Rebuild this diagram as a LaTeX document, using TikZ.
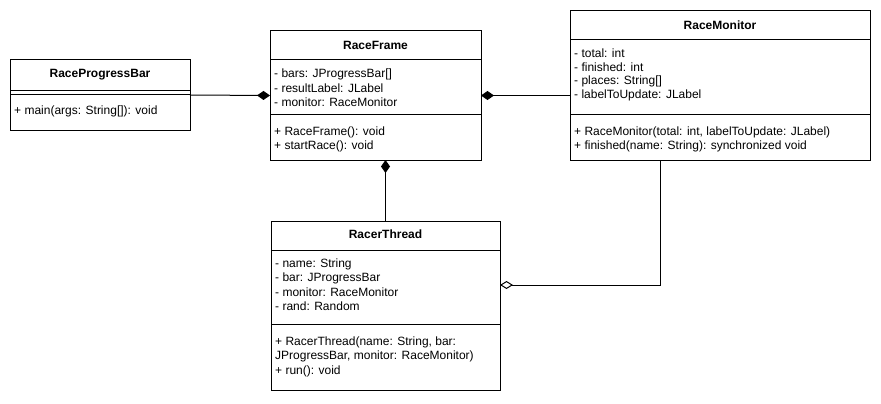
\documentclass[tikz,border=0pt]{standalone}
\usepackage{fontspec}
\setmainfont{Liberation Sans}
\usetikzlibrary{arrows.meta}
\begin{document}
\begin{tikzpicture}[x=1pt,y=-1pt,font=\fontsize{12}{14}\selectfont,
  cls/.style={draw, line width=1pt, fill=white, inner sep=0pt, outer sep=0pt, anchor=north west},
  ttl/.style={font=\fontsize{12}{14}\selectfont\bfseries, inner sep=0pt},
  txt/.style={anchor=west, inner sep=0pt},
  sepline/.style={line width=1pt},
  comp/.style={line width=1pt, {Diamond[length=13pt,width=9pt]}-},
  agg/.style={line width=1pt, {Diamond[open,length=13pt,width=8pt,fill=white]}-}]
\fill[white] (0,0) rectangle (881,404);
\useasboundingbox (0,0) rectangle (881,404);

% RaceProgressBar
\node[cls, minimum width=180pt, minimum height=70pt] (rpb) at (10,60) {};
\node[ttl] (rpbt) at (100,75) {RaceProgressBar};
\draw[sepline] (10,90) -- (190,90);
\draw[sepline] (10,94) -- (190,94);
\node[txt] (rpbm1) at (14,111) {+ main(args: String[]): void};

% RaceFrame
\node[cls, minimum width=211pt, minimum height=129pt] (rf) at (270,31) {};
\node[ttl] (rft) at (375.5,45) {RaceFrame};
\draw[sepline] (270,60) -- (481,60);
\node[txt] (rfa1) at (274,74.5) {- bars: JProgressBar[]};
\node[txt] (rfa2) at (274,88.5) {- resultLabel: JLabel};
\node[txt] (rfa3) at (274,102.5) {- monitor: RaceMonitor};
\draw[sepline] (270,114) -- (481,114);
\node[txt] (rfm1) at (274,132) {+ RaceFrame(): void};
\node[txt] (rfm2) at (274,146) {+ startRace(): void};

% RaceMonitor
\node[cls, minimum width=300pt, minimum height=149pt] (rm) at (570,11) {};
\node[ttl] (rmt) at (720,25) {RaceMonitor};
\draw[sepline] (570,40) -- (870,40);
\node[txt] (rma1) at (574,53) {- total: int};
\node[txt] (rma2) at (574,67) {- finished: int};
\node[txt] (rma3) at (574,81.5) {- places: String[]};
\node[txt] (rma4) at (574,95.5) {- labelToUpdate: JLabel};
\draw[sepline] (570,114) -- (870,114);
\node[txt] (rmm1) at (574,132.5) {+ RaceMonitor(total: int, labelToUpdate: JLabel)};
\node[txt] (rmm2) at (574,146.5) {+ finished(name: String): synchronized void};

% RacerThread
\node[cls, minimum width=229pt, minimum height=169pt] (rt) at (271,221) {};
\node[ttl] (rtt) at (385.5,234) {RacerThread};
\draw[sepline] (271,250) -- (500,250);
\node[txt] (rta1) at (275,264) {- name: String};
\node[txt] (rta2) at (275,278) {- bar: JProgressBar};
\node[txt] (rta3) at (275,292.5) {- monitor: RaceMonitor};
\node[txt] (rta4) at (275,306.5) {- rand: Random};
\draw[sepline] (271,324) -- (500,324);
\node[txt] (rtm1) at (275,342.5) {+ RacerThread(name: String, bar:};
\node[txt] (rtm2) at (275,356.5) {JProgressBar, monitor: RaceMonitor)};
\node[txt] (rtm3) at (275,371) {+ run(): void};

% connectors
\draw[comp] (rf.west) -- (rpb.east);
\draw[comp] (rf.east) -- (rf.east -| rm.west);
\draw[comp] (rt.north |- rf.south) -- (rt.north);
\draw[agg] ([yshift=20.5pt]rt.east) -| ([xshift=-59.5pt]rm.south);
\end{tikzpicture}
\end{document}
